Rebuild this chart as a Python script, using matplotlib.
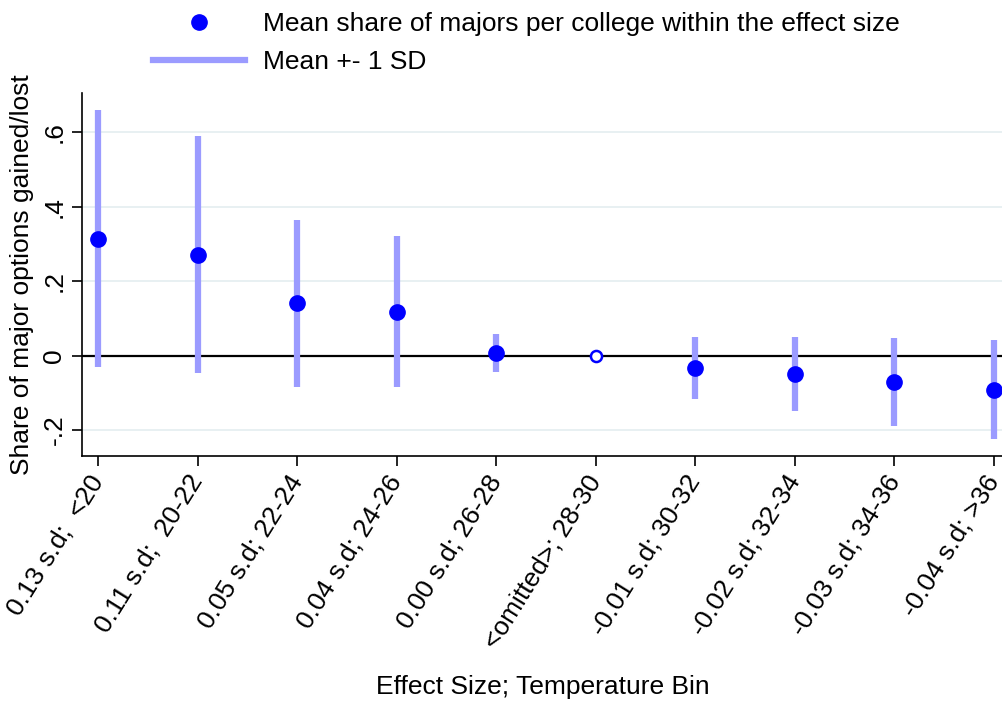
import matplotlib
matplotlib.use("Agg")
import matplotlib.pyplot as plt
from matplotlib.lines import Line2D

plt.rcParams['font.family'] = ['Liberation Sans', 'DejaVu Sans']

labels = ["0.13 s.d;  <20", "0.11 s.d;  20-22", "0.05 s.d; 22-24", "0.04 s.d; 24-26",
          "0.00 s.d; 26-28", "<omitted>; 28-30", "-0.01 s.d; 30-32", "-0.02 s.d; 32-34",
          "-0.03 s.d; 34-36", "-0.04 s.d; >36"]
means = [0.313, 0.270, 0.141, 0.117, 0.007, 0.0, -0.034, -0.050, -0.072, -0.093]
upper = [0.659, 0.589, 0.364, 0.321, 0.058, None, 0.049, 0.050, 0.046, 0.042]
lower = [-0.031, -0.047, -0.085, -0.085, -0.043, None, -0.118, -0.148, -0.189, -0.225]
omitted_index = 5

fig = plt.figure(figsize=(10.03, 7.01), dpi=100)
ax = fig.add_axes([0.0818, 0.3495, 0.9182, 0.5175])

xs = list(range(1, len(labels) + 1))
bar_color = '#9b9bff'
pt_color = '#0000ff'
FS = 19

for y in [-0.2, 0.2, 0.4, 0.6]:
    ax.axhline(y, color='#e6eff1', lw=1.3, zorder=0)
ax.axhline(0, color='black', lw=1.6, zorder=1)

for x, lo, hi in zip(xs, lower, upper):
    if lo is None:
        continue
    ax.plot([x, x], [lo, hi], color=bar_color, lw=4.5, solid_capstyle='butt', zorder=2)

for i, (x, m) in enumerate(zip(xs, means)):
    if i == omitted_index:
        ax.plot(x, m, 'o', ms=8, mfc='white', mec=pt_color, mew=1.8, zorder=3)
    else:
        ax.plot(x, m, 'o', ms=11, color=pt_color, zorder=3)

ax.set_xlim(0.84, 10.09)
ax.set_ylim(-0.27, 0.705)
ax.set_yticks([-0.2, 0, 0.2, 0.4, 0.6])
ax.set_yticklabels(['-.2', '0', '.2', '.4', '.6'], rotation=90, va='center')
ax.set_xticks(xs)
ax.set_xticklabels(labels, rotation=58, ha='right', va='center', rotation_mode='anchor')
ax.tick_params(axis='both', labelsize=FS, length=7.2, width=1.2, colors='black')
ax.tick_params(axis='x', pad=8)
ax.tick_params(axis='y', pad=4)
for s in ['top', 'right']:
    ax.spines[s].set_visible(False)
for s in ['left', 'bottom']:
    ax.spines[s].set_linewidth(1.2)

ax.set_ylabel('Share of major options gained/lost', fontsize=FS, labelpad=6)
ax.set_xlabel('Effect Size; Temperature Bin', fontsize=FS, labelpad=16)

handles = [Line2D([], [], marker='o', ls='none', color=pt_color, ms=11),
           Line2D([], [], color=bar_color, lw=4.5)]
fig.legend(handles, ['Mean share of majors per college within the effect size', 'Mean +- 1 SD'],
           loc='upper left', bbox_to_anchor=(0.129, 1.017), frameon=False, fontsize=FS,
           handlelength=3.5, handletextpad=0.68, labelspacing=0.53)

fig.savefig('out.png', dpi=100)
